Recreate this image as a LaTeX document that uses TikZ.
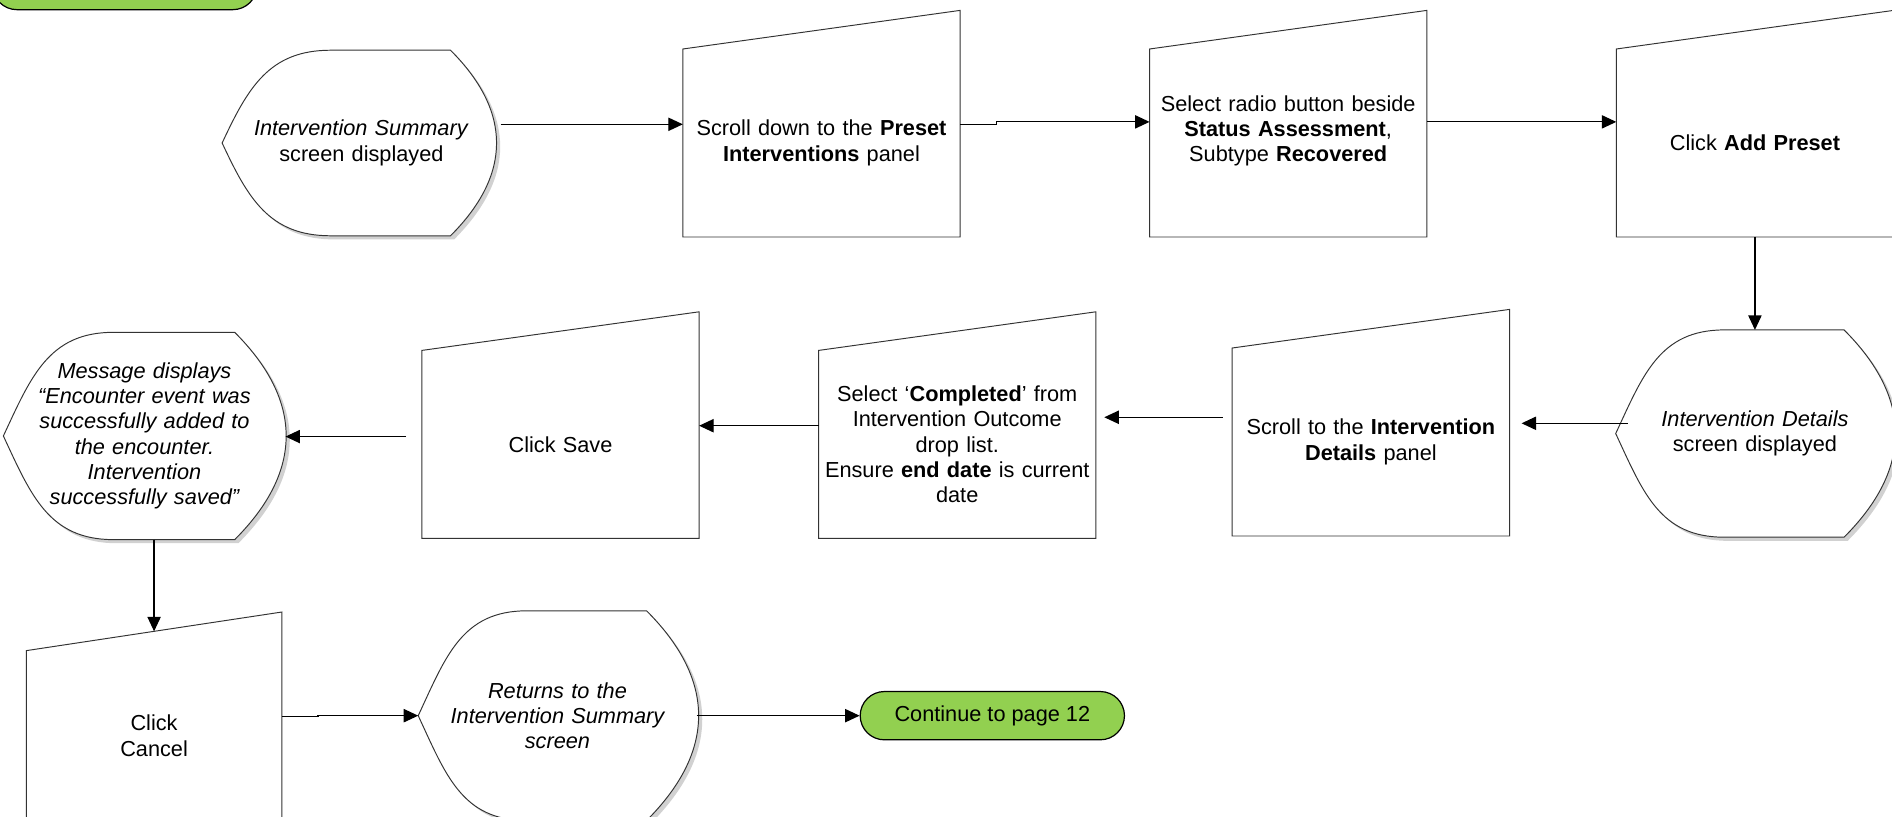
\documentclass[tikz,border=0pt]{standalone}
\usepackage{fontspec}
\setmainfont{Liberation Sans}
\usetikzlibrary{arrows.meta,calc,positioning,backgrounds}
\definecolor{linkgreen}{RGB}{146,208,80}
\newcommand{\normaltext}{\fontsize{9}{10.5}\selectfont}
% outlines of the two flowchart symbols, built from node anchors
\newcommand{\displaypath}[1]{(#1.west) to[out=65,in=180,looseness=1.1] ($(#1.north west)!.39!(#1.north east)$) -- ($(#1.north west)!.82!(#1.north east)$) to[out=-45,in=45,looseness=1.2] ($(#1.south west)!.82!(#1.south east)$) -- ($(#1.south west)!.39!(#1.south east)$) to[out=180,in=-65,looseness=1.1] (#1.west) -- cycle}
\newcommand{\manualpath}[1]{(#1.south west) -- (#1.north west) -- ([yshift=16pt]#1.north east) -- (#1.south east) -- cycle}
\tikzset{
    %Define standard arrow tip
    >={Triangle[length=6pt,width=5.5pt]},
    %Define style for manual input boxes
    manual/.style={
           rectangle,
           minimum width=114.5pt,
           minimum height=77.5pt,
           inner sep=0pt,
           text width=112pt,
           align=center,
           font=\normaltext},
    %Define style for display shapes
    display/.style={
           rectangle,
           minimum width=115pt,
           minimum height=85.5pt,
           inner sep=0pt,
           text width=105pt,
           align=center,
           font=\normaltext},
    %Define style for page links
    pagelink/.style={
           rectangle,
           rounded corners=10pt,
           draw=black, line width=.5pt,
           fill=linkgreen,
           minimum width=109.5pt,
           minimum height=20pt,
           font=\normaltext},
    txt/.style={
           align=center,
           text width=110pt,
           inner sep=0pt,
           font=\normaltext},
    outline/.style={draw=black!80, line width=.4pt},
    dropshade/.style={fill=black!18, transform canvas={shift={(1.5pt,-1.5pt)}}},
    % Define arrow style
    pil/.style={
           ->,
           line width=.5pt}
}
\begin{document}
\begin{tikzpicture}
\useasboundingbox (0,0) rectangle (784pt,-338.5pt);
 %nodes
\node[pagelink] (prev) at (51.75pt,6pt) {};
\node[display, minimum height=76.5pt] (d1) at (149.75pt,-59.25pt) {\textit{Intervention Summary}\\screen displayed};
\node[manual, right=75.5pt of d1] (m1) {Scroll down to the \textbf{Preset}\\\textbf{Interventions} panel};
\node[manual, right=78.5pt of m1, label={[txt, yshift=5pt]center:{Select radio button beside\\\textbf{Status Assessment},\\Subtype \textbf{Recovered}}}] (m2) {};
\node[manual, right=78.5pt of m2] (m3) {Click \textbf{Add Preset}};
\node[display, below=38.5pt of m3] (d2) {\textit{Intervention Details}\\screen displayed};
\node[manual, left=44pt of d2, yshift=-3.5pt] (m4) {Scroll to the \textbf{Intervention}\\\textbf{Details} panel};
\node[manual, left=56.5pt of m4, yshift=-1pt] (m5) {Select ‘\textbf{Completed}’ from\\Intervention Outcome\\drop list.\\Ensure \textbf{end date} is current\\date};
\node[manual, left=49.5pt of m5] (m6) {Click Save};
\node[display, minimum width=116.5pt, font=\normaltext\itshape, left=56.5pt of m6, yshift=3.5pt] (d3) {Message displays\\“Encounter event was\\successfully added to\\the encounter.\\Intervention\\successfully saved”};
\node[manual, minimum width=105.5pt, text width=100pt, minimum height=70pt, below=46pt of d3, xshift=4pt] (m7) {Click\\Cancel};
\node[display, minimum height=86.5pt, font=\normaltext\itshape, right=56.5pt of m7, yshift=8.25pt] (d4) {Returns to the\\Intervention Summary\\screen};
\node[pagelink, right=67.5pt of d4] (next) {Continue to page 12};
 %shapes
\begin{scope}[on background layer]
\foreach \n in {d1,d2,d3,d4}{
    \path[dropshade] \displaypath{\n};
    \draw[outline, fill=white] \displaypath{\n};
}
\end{scope}
\foreach \n in {m1,m2,m3,m4,m5,m6,m7}
    \draw[outline] \manualpath{\n};
 %connectors
\draw[pil] ([yshift=7.75pt]d1.east) -- ([yshift=7.75pt]m1.west);
\draw[pil] ([yshift=7.75pt]m1.east) -- ++(15pt,0) |- ([yshift=8.75pt]m2.west);
\draw[pil] ([yshift=8.75pt]m2.east) -- ([yshift=8.75pt]m3.west);
\draw[pil] (m3.south) -- (d2.north);
\draw[pil] ([xshift=5pt,yshift=4.25pt]d2.west) -- ([xshift=5pt,yshift=4.25pt]d2.west -| m4.east);
\draw[pil, shorten <=4pt, shorten >=3.5pt] ([yshift=10.25pt]m4.west) -- ([yshift=10.25pt]m4.west -| m5.east);
\draw[pil] ([yshift=7.75pt]m5.west) -- ([yshift=7.75pt]m5.west -| m6.east);
\draw[pil, shorten <=6.5pt] ([yshift=3.25pt]m6.west) -- ([yshift=3.25pt]m6.west -| d3.east);
\draw[pil] (d3.south -| m7.north) -- ([yshift=8pt]m7.north);
\draw[pil] ([yshift=8pt]m7.east) -- ++(15pt,0) |- (d4.west);
\draw[pil] (d4.east) -- (next.west);
\end{tikzpicture}
\end{document}
